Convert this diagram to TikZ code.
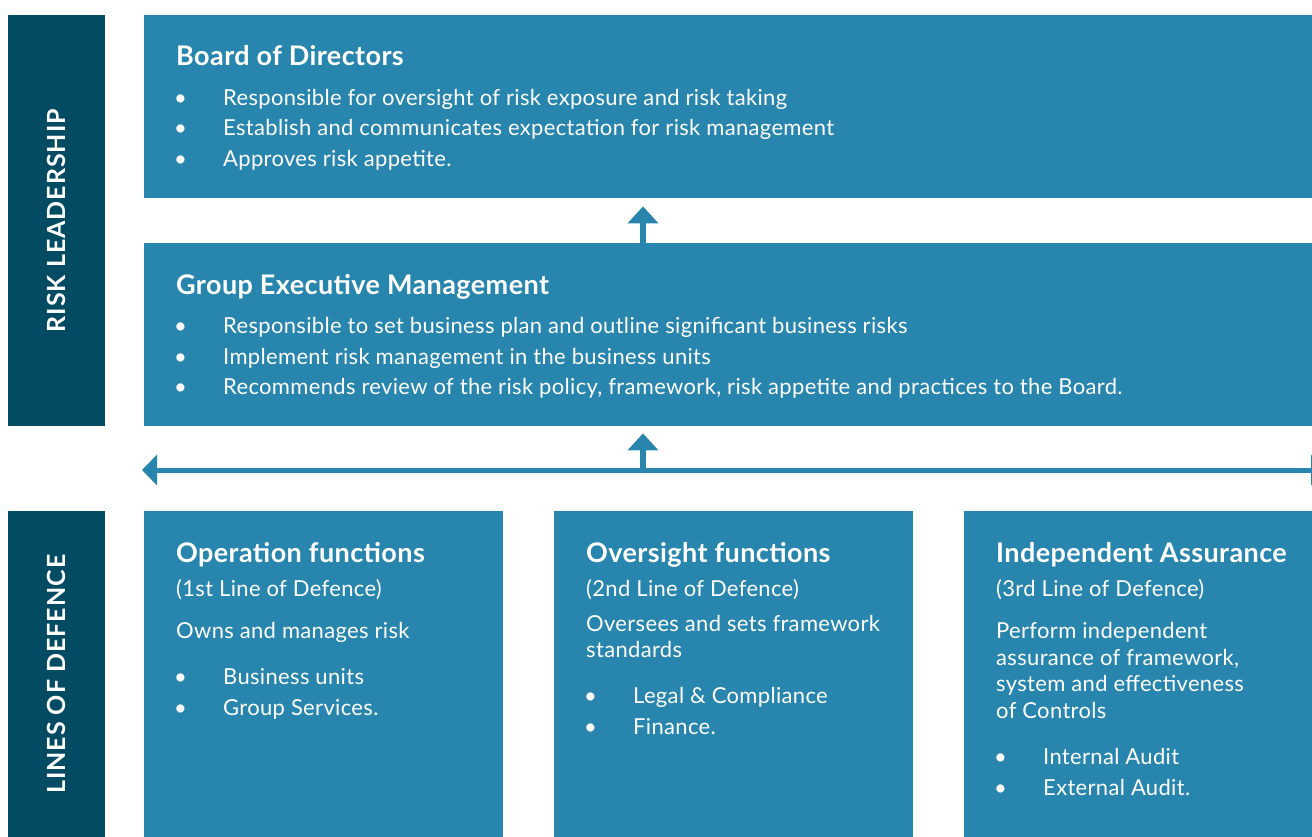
\documentclass[tikz,border=0pt]{standalone}
\usepackage{fontspec}
\setmainfont{Lato}
\newfontfamily\bodyfont{Lato}[LetterSpace=1.5]
\newfontfamily\titlefont{Lato}[LetterSpace=1.5]
\newfontfamily\sidefont{Lato}[LetterSpace=4]
\usetikzlibrary{arrows.meta}
\definecolor{panelblue}{RGB}{40,134,174}
\definecolor{sidedark}{RGB}{3,74,99}
\begin{document}
\begin{tikzpicture}[x=1pt,y=-1pt,
  panel/.style={fill=panelblue,draw=none,inner sep=0pt,anchor=north west},
  side/.style={fill=sidedark,draw=none,inner sep=0pt,anchor=north west,minimum width=97pt},
  sidelabel/.style={text=white,rotate=90,font=\sidefont\fontsize{25}{28}\selectfont\bfseries},
  ttl/.style={text=white,anchor=base west,inner sep=0pt,font=\titlefont\fontsize{27}{30}\selectfont\bfseries},
  txt/.style={text=white,anchor=base west,inner sep=0pt,font=\bodyfont\fontsize{22}{25}\selectfont},
  conn/.style={draw=panelblue,line width=6pt,-{Triangle[width=30pt,length=17pt]}},
]
\useasboundingbox (0,0) rectangle (1312,837);
\fill[white] (0,0) rectangle (1312,837);

% side bars
\node[side,minimum height=411pt] (sideTop) at (8,15) {};
\node[side,minimum height=326pt] (sideBot) at (8,511) {};
\node[sidelabel] at (sideTop.center) {RISK LEADERSHIP};
\node[sidelabel] at (sideBot.center) {LINES OF DEFENCE};

% leadership panels
\node[panel,minimum width=1168pt,minimum height=183pt] (board) at (144,15) {};
\node[panel,minimum width=1168pt,minimum height=183pt] (gem) at (144,243) {};

% lines of defence panels
\node[panel,minimum width=359pt,minimum height=326pt] (op) at (144,511) {};
\node[panel,minimum width=359pt,minimum height=326pt] (ov) at (554,511) {};
\node[panel,minimum width=348pt,minimum height=326pt] (ia) at (964,511) {};

% Board of Directors
\node[ttl] at (176,66) {Board of Directors};
\foreach \y/\t in {106/{Responsible for oversight of risk exposure and risk taking},
                   136/{Establish and communicates expectation for risk management},
                   167/{Approves risk appetite.}}{
  \node[txt] at (174,\y) {•};
  \node[txt] at (223,\y) {\t};
}

% Group Executive Management
\node[ttl] at (176,294) {Group Executive Management};
\foreach \y/\t in {333/{Responsible to set business plan and outline significant business risks},
                   364/{Implement risk management in the business units},
                   394/{Recommends review of the risk policy, framework, risk appetite and practices to the Board.}}{
  \node[txt] at (174,\y) {•};
  \node[txt] at (223,\y) {\t};
}

% Operation functions
\node[ttl] at (176,562) {Operation functions};
\node[txt] at (176,596) {(1st Line of Defence)};
\node[txt] at (176,638) {Owns and manages risk};
\node[txt] at (174,684) {•}; \node[txt] at (223,684) {Business units};
\node[txt] at (174,715) {•}; \node[txt] at (223,715) {Group Services.};

% Oversight functions
\node[ttl] at (586,562) {Oversight functions};
\node[txt] at (586,596) {(2nd Line of Defence)};
\node[txt] at (586,631) {Oversees and sets framework};
\node[txt] at (586,657) {standards};
\node[txt] at (584,703) {•}; \node[txt] at (633,703) {Legal \& Compliance};
\node[txt] at (584,734) {•}; \node[txt] at (633,734) {Finance.};

% Independent Assurance
\node[ttl] at (996,562) {Independent Assurance};
\node[txt] at (996,596) {(3rd Line of Defence)};
\node[txt] at (996,638) {Perform independent};
\node[txt] at (996,665) {assurance of framework,};
\node[txt] at (996,691) {system and effectiveness};
\node[txt] at (996,718) {of Controls};
\node[txt] at (994,764) {•}; \node[txt] at (1043,764) {Internal Audit};
\node[txt] at (994,795) {•}; \node[txt] at (1043,795) {External Audit.};

% connectors
\coordinate (ax) at (643,0);
\coordinate (hl) at (142,470);
\coordinate (hr) at (1326,470);
\draw[conn,shorten >=8pt] (gem.north -| ax) -- (board.south -| ax);
\draw[conn,{Triangle[width=30pt,length=15pt]}-{Triangle[width=30pt,length=15pt]},line width=5pt] (hl) -- (hr);
\draw[conn,shorten >=7pt] (hl -| ax) -- (gem.south -| ax);
\end{tikzpicture}
\end{document}
